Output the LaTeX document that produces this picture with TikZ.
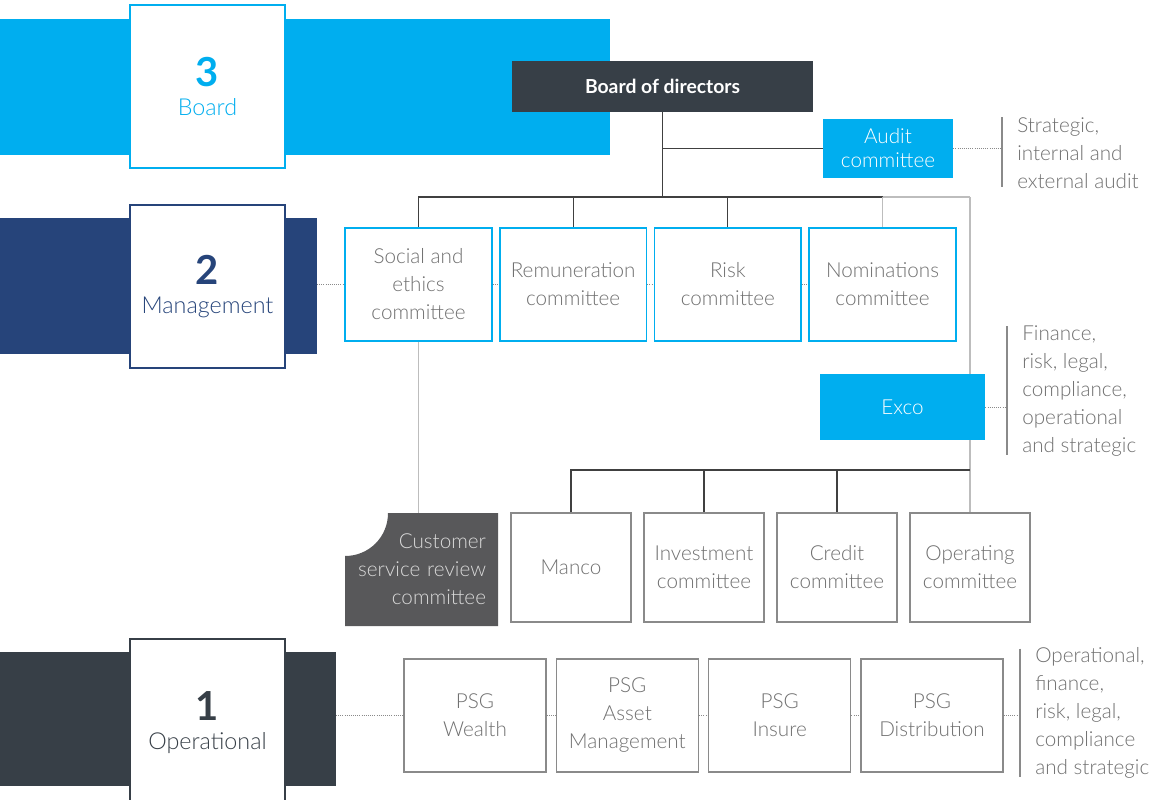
\documentclass[tikz,border=0pt]{standalone}
\usepackage{fontspec}
\setmainfont{Lato}[UprightFont = * Light, BoldFont = * Bold]
\usetikzlibrary{positioning}
\usetikzlibrary{backgrounds}

\definecolor{psgcyan}{HTML}{00AEEF}
\definecolor{psgnavy}{HTML}{26447A}
\definecolor{psgdark}{HTML}{373F47}
\definecolor{csrgray}{HTML}{58585A}
\definecolor{txtgray}{HTML}{707070}
\definecolor{boxgray}{HTML}{8A8A8A}
\definecolor{linedark}{HTML}{404040}
\definecolor{linelight}{HTML}{BDBDBD}

\newcommand{\lvlnum}[1]{{\fontsize{30}{30}\selectfont\bfseries #1}}

\begin{document}
\begin{tikzpicture}[
        x = 0.75pt, y = -0.75pt,
        level/.style = {
            draw = #1,
            line width = 1.6pt,
            fill = white,
            text = #1,
            minimum width = 116pt,
            minimum height = 122pt,
            inner sep = 0pt,
            align = center,
            font = \fontsize{17.5}{22}\selectfont
        },
        combox/.style = {
            draw = psgcyan,
            line width = 1.2pt,
            fill = white,
            text = txtgray,
            minimum width = 110pt,
            minimum height = 85pt,
            inner sep = 0pt,
            align = center,
            font = \fontsize{15.5}{21}\selectfont
        },
        opbox/.style = {combox, draw = boxgray, minimum width = #1},
        opbox/.default = 90pt,
        bluebox/.style = {
            fill = psgcyan,
            text = white,
            inner sep = 0pt,
            align = center,
            font = \fontsize{15.5}{18}\selectfont
        },
        note/.style = {
            anchor = west,
            align = left,
            text = txtgray,
            inner sep = 0pt,
            font = \fontsize{15.5}{21}\selectfont
        },
        tree/.style = {draw = linedark, line width = 0.9pt},
        treelight/.style = {draw = linelight, line width = 1pt},
        dots/.style = {draw = boxgray, densely dotted, line width = 0.6pt},
        bar/.style = {draw = boxgray, line width = 0.8pt}
        ]
        \useasboundingbox (0,0) rectangle (1162,799);
%
        \fill[psgcyan] (0,19) rectangle (610,155);
        \fill[psgnavy] (0,218) rectangle (317,354);
        \fill[psgdark] (0,652) rectangle (336,786);
        \coordinate (band2) at (317,284.5);
        \coordinate (band1) at (336,715.5);
%
        \node[level=psgcyan] (lvl3) at (207.5,86.5) {\lvlnum{3}\\Board};
        \node[level=psgnavy] (lvl2) at (207.5,286.5) {\lvlnum{2}\\Management};
        \node[level=psgdark, minimum height=125pt] (lvl1) at (207.5,722.5) {\lvlnum{1}\\Operational};
%
        \node[fill=psgdark, text=white, minimum width=225.75pt, minimum height=38.25pt,
              font=\fontsize{14.5}{16}\selectfont\bfseries] (bod) at (662.5,86.5) {Board of directors};
        \node[bluebox, minimum width=97.5pt, minimum height=44pt] (audit) at (888,148.5) {Audit\\committee};
%
        \node[combox] (social) at (418.5,284.5) {Social and\\ethics\\committee};
        \node[combox, right=4.8pt of social] (remun) {Remuneration\\committee};
        \node[combox, right=4.8pt of remun] (risk) {Risk\\committee};
        \node[combox, right=4.8pt of risk] (nomin) {Nominations\\committee};
%
        \node[bluebox, minimum width=124pt, minimum height=49.5pt] (exco) at (902.5,407) {Exco};
%
        \fill[csrgray] (388,513) -- (498,513) -- (498,626) -- (345,626) -- (345,556)
                       .. controls (369,556) and (388,537) .. (388,513) -- cycle;
        \node[minimum width=114.75pt, minimum height=84.75pt, inner xsep=9pt, text width=96.75pt,
              align=right, text=white!85!black, font=\fontsize{15.5}{21}\selectfont] (csr) at (421.5,569.5)
              {Customer\\service review\\committee};
%
        \node[opbox, minimum height=81.75pt] (manco) at (571,567.5) {Manco};
        \node[opbox, minimum height=81.75pt, right=8.55pt of manco] (invest) {Investment\\committee};
        \node[opbox, minimum height=81.75pt, right=8.55pt of invest] (credit) {Credit\\committee};
        \node[opbox, minimum height=81.75pt, right=8.55pt of credit] (operating) {Operating\\committee};
%
        \node[opbox=106.5pt] (wealth) at (475,715.5) {PSG\\Wealth};
        \node[opbox=106.5pt, right=6.55pt of wealth] (asset) {PSG\\Asset\\Management};
        \node[opbox=106.5pt, right=6.55pt of asset] (insure) {PSG\\Insure};
        \node[opbox=106.5pt, right=6.55pt of insure] (distrib) {PSG\\Distribution};
%
        \node[note] (auditnote) at (1017,153) {Strategic,\\internal and\\external audit};
        \node[note] (exconote) at (1022,391) {Finance,\\risk, legal,\\compliance,\\operational\\and strategic};
        \node[note] (psgnote) at (1035,713) {Operational,\\finance,\\risk, legal,\\compliance\\and strategic};
%
        \coordinate (abar) at (1002,152);
        \coordinate (ebar) at (1007,401);
        \coordinate (pbar) at (1020,715.5);
        \coordinate (topbus) at (operating.north |- 0,197);
        \coordinate (midbus) at (0,470);
%
        \draw[bar] (abar) ++(0,-35) -- ++(0,70);
        \draw[bar] (ebar) ++(0,-75) -- ++(0,129);
        \draw[bar] (pbar) ++(0,-67) -- ++(0,128);
%
        \begin{scope}[on background layer]
        \draw[tree] (bod.south) -- (bod.south |- topbus);
        \draw[tree] (bod.south |- audit.west) -- (audit.west);
        \draw[tree] (social.north) |- (nomin.north |- topbus);
        \draw[treelight] (nomin.north |- topbus) -- (topbus);
        \foreach \c in {remun, risk}
            \draw[tree] (\c.north) -- (\c.north |- topbus);
        \draw[treelight] (nomin.north) -- (nomin.north |- topbus);
        \draw[treelight] (topbus) -- (operating.north);
        \draw[treelight] (social.south) -- (social.south |- csr.north);
%
        \draw[tree] (manco.north) |- (operating.north |- midbus);
        \foreach \c in {invest, credit}
            \draw[tree] (\c.north) -- (\c.north |- midbus);
        \end{scope}
%
        \draw[dots] (band2) -- (social.west);
        \draw[dots] (social.east) -- (remun.west);
        \draw[dots] (remun.east) -- (risk.west);
        \draw[dots] (risk.east) -- (nomin.west);
        \draw[dots] (audit.east) -- (audit.east -| abar);
        \draw[dots] (exco.east) -- (exco.east -| ebar);
        \draw[dots] (band1) -- (wealth.west);
        \draw[dots] (wealth.east) -- (asset.west);
        \draw[dots] (asset.east) -- (insure.west);
        \draw[dots] (insure.east) -- (distrib.west);
        \draw[dots] (distrib.east) -- (pbar);
\end{tikzpicture}
\end{document}
